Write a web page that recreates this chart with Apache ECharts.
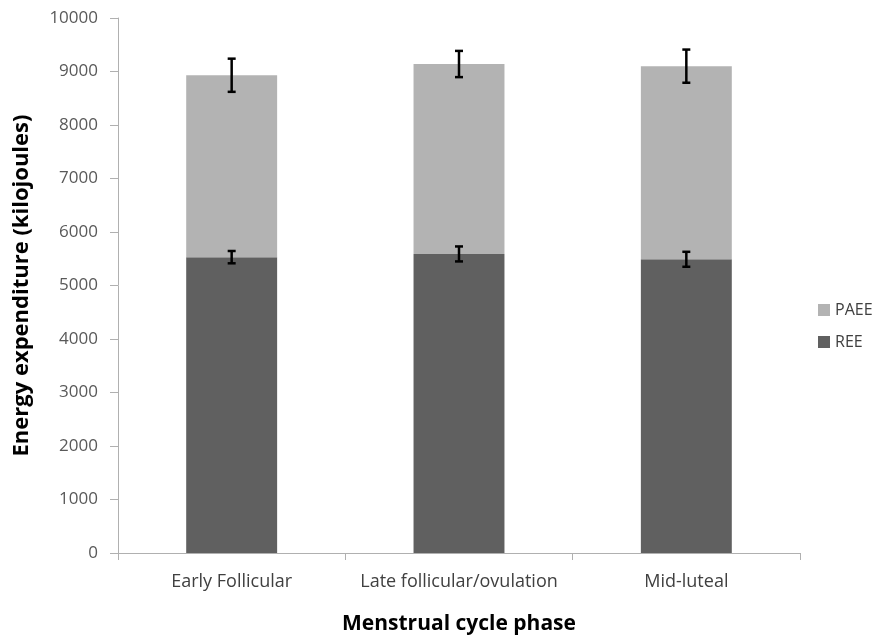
<!DOCTYPE html>
<html>
<head>
<meta charset="utf-8">
<script src="https://cdn.jsdelivr.net/npm/echarts@6/dist/echarts.min.js"></script>
<style>
  html, body { margin: 0; padding: 0; background: #fff; }
  #chart1 { width: 875px; height: 641px; }
</style>
</head>
<body>
<div id="chart1"></div>
<script>
var phases = ['Early Follicular', 'Late follicular/ovulation', 'Mid-luteal'];
var ree = [5530, 5590, 5490];
var paee = [3400, 3550, 3610];
var reeErr = [115, 140, 140];
var totalErr = [310, 245, 310];

var dom = document.getElementById('chart1');
var myChart = echarts.init(dom, null, { renderer: 'canvas' });

// error bar ranges [category, low, high]
var reeBars = [];
var totalBars = [];
for (var i = 0; i < phases.length; i++) {
  reeBars.push([i, ree[i] - reeErr[i], ree[i] + reeErr[i]]);
  var tot = ree[i] + paee[i];
  totalBars.push([i, tot - totalErr[i], tot + totalErr[i]]);
}

function errorItem(params, api) {
  var x = api.value(0);
  var lo = api.coord([x, api.value(1)]);
  var hi = api.coord([x, api.value(2)]);
  var cap = 4;
  var style = { stroke: '#000', lineWidth: 2.5 };
  return {
    type: 'group',
    children: [
      { type: 'line', shape: { x1: hi[0], y1: hi[1], x2: lo[0], y2: lo[1] }, style: style },
      { type: 'line', shape: { x1: hi[0] - cap, y1: hi[1], x2: hi[0] + cap, y2: hi[1] }, style: style },
      { type: 'line', shape: { x1: lo[0] - cap, y1: lo[1], x2: lo[0] + cap, y2: lo[1] }, style: style }
    ]
  };
}

var font = '"Open Sans", "Noto Sans", sans-serif';

var option = {
  animation: false,
  textStyle: { fontFamily: font },
  grid: { left: 118, right: 75, top: 18, bottom: 88 },
  legend: {
    data: ['PAEE', 'REE'],
    orient: 'vertical',
    left: 813,
    top: 297,
    itemWidth: 12,
    itemHeight: 12,
    itemGap: 16,
    icon: 'rect',
    textStyle: { fontSize: 16, color: '#404040', fontFamily: font }
  },
  xAxis: {
    type: 'category',
    data: phases,
    name: 'Menstrual cycle phase',
    nameLocation: 'middle',
    nameGap: 61,
    nameTextStyle: { fontSize: 21, fontWeight: 'bold', color: '#000', fontFamily: font },
    axisLine: { lineStyle: { color: '#b0b0b0' } },
    axisTick: { show: true, length: 7, lineStyle: { color: '#b0b0b0' } },
    axisLabel: { fontSize: 18, color: '#404040', margin: 20, interval: 0 }
  },
  yAxis: {
    type: 'value',
    min: 0,
    max: 10000,
    interval: 1000,
    name: 'Energy expenditure (kilojoules)',
    nameLocation: 'middle',
    nameGap: 85,
    nameTextStyle: { fontSize: 22, fontWeight: 'bold', color: '#000', fontFamily: font },
    axisLine: { show: true, lineStyle: { color: '#b0b0b0' } },
    axisTick: { show: true, length: 8, lineStyle: { color: '#b0b0b0' } },
    splitLine: { show: false },
    axisLabel: {
      fontSize: 17,
      color: '#595959',
      margin: 20,
      formatter: function (v) { return String(v); }
    }
  },
  series: [
    {
      name: 'REE',
      type: 'bar',
      stack: 'total',
      barWidth: '40%',
      itemStyle: { color: '#606060' },
      data: ree
    },
    {
      name: 'PAEE',
      type: 'bar',
      stack: 'total',
      barWidth: '40%',
      itemStyle: { color: '#b3b3b3' },
      data: paee
    },
    {
      type: 'custom',
      renderItem: errorItem,
      encode: { x: 0, y: [1, 2] },
      data: reeBars,
      z: 10
    },
    {
      type: 'custom',
      renderItem: errorItem,
      encode: { x: 0, y: [1, 2] },
      data: totalBars,
      z: 10
    }
  ]
};

myChart.setOption(option);
window.addEventListener('resize', myChart.resize);
</script>
</body>
</html>
